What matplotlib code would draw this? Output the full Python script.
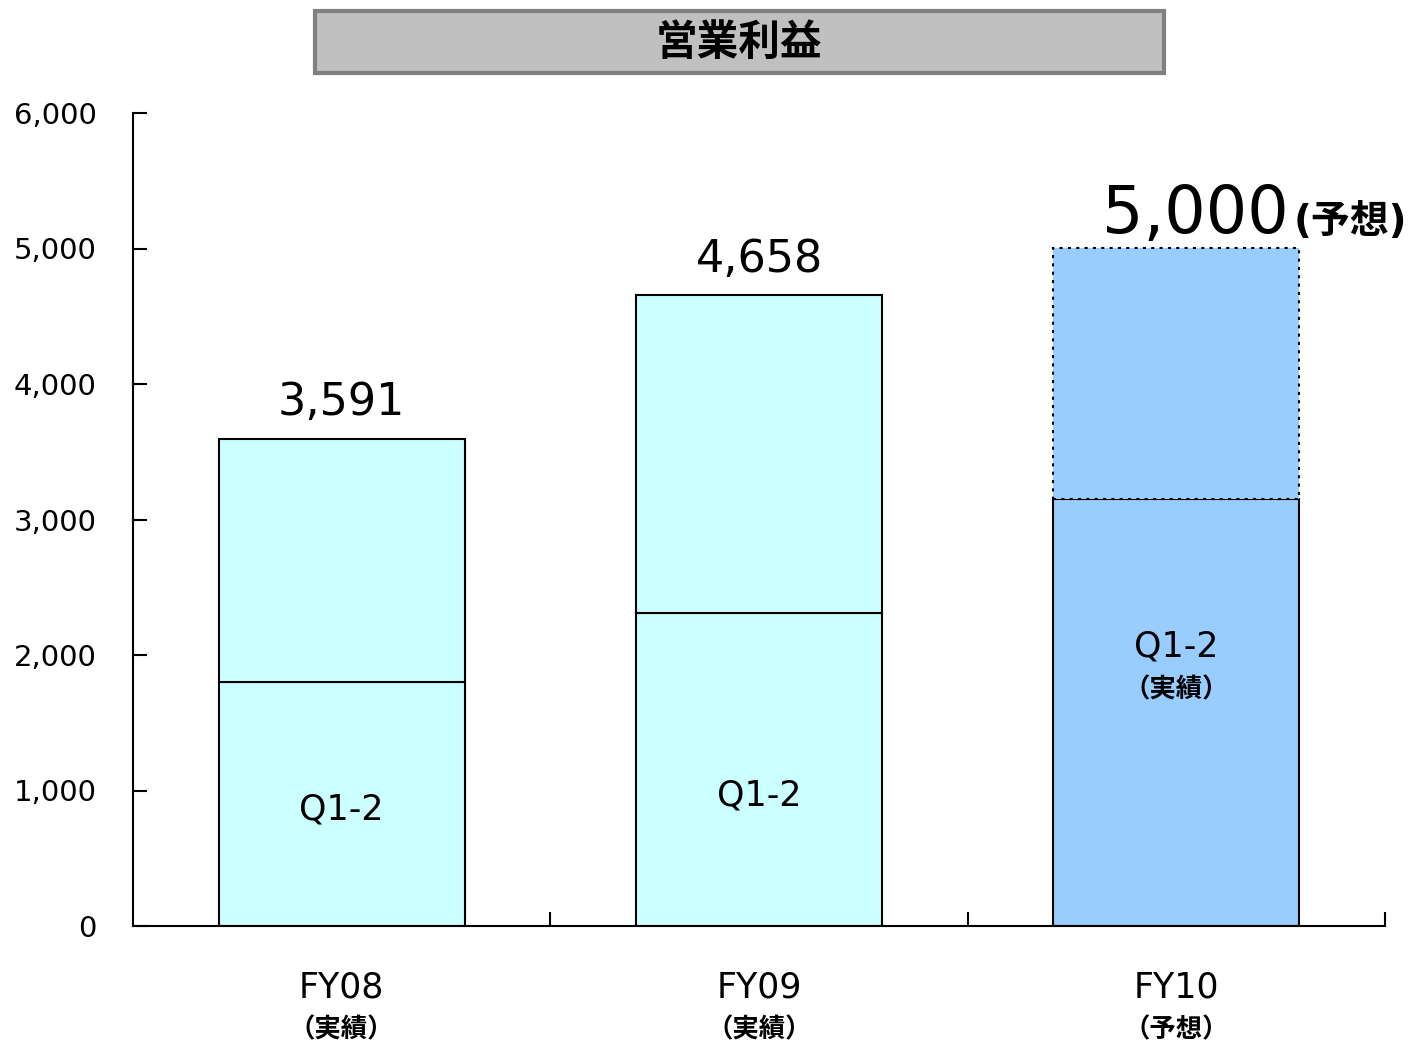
import matplotlib
matplotlib.use("Agg")
import matplotlib.pyplot as plt
import matplotlib.patches as patches
import matplotlib.transforms as mtransforms
import numpy as np

# Latin glyphs from DejaVu (wide digits), Japanese falls through to Noto CJK
plt.rcParams['font.family'] = ['DejaVu Sans', 'Noto Sans CJK JP']

# -------------------------
# Data (operating profit, million yen)
# -------------------------
categories = ['FY08', 'FY09', 'FY10']
sub_labels = ['（実績）', '（実績）', '（予想）']
first_half = [1800, 2310, 3150]        # Q1-2 results
full_year = [3591, 4658, 5000]         # full-year result / forecast
value_labels = ['3,591', '4,658', '5,000']
y_ticks = [0, 1000, 2000, 3000, 4000, 5000, 6000]

second_half = [f - h for f, h in zip(full_year, first_half)]

fig = plt.figure(figsize=(14.19, 10.48), dpi=100)
ax = fig.add_axes([133 / 1419, 1 - 926 / 1048, 1252 / 1419, 813 / 1048])

x = np.arange(len(categories)) + 0.5
width = 0.59
colors = ['#CCFFFF', '#CCFFFF', '#99CCFF']

for i in range(len(categories)):
    ax.bar(x[i], first_half[i], width, color=colors[i], edgecolor='black',
           linewidth=1.5, zorder=2)
    if i < 2:
        ax.bar(x[i], second_half[i], width, bottom=first_half[i], color=colors[i],
               edgecolor='black', linewidth=1.5, zorder=2)
    else:
        # forecast part drawn with dotted outline
        ax.bar(x[i], second_half[i], width, bottom=first_half[i], color=colors[i],
               edgecolor='black', linewidth=1.5, linestyle=(0, (1.5, 2.5)), zorder=3)

# value labels above the bars
ax.text(x[0], full_year[0] + 180, value_labels[0], ha='center', va='baseline', fontsize=32)
ax.text(x[1], full_year[1] + 165, value_labels[1], ha='center', va='baseline', fontsize=32)
ax.text(x[2] + 0.27, full_year[2] + 118, value_labels[2], ha='right', va='baseline', fontsize=47)
ax.text(x[2] + 0.28, full_year[2] + 118, '(予想)', ha='left', va='baseline', fontsize=28,
        fontweight='bold')

# Q1-2 labels inside bars
ax.text(x[0], 860, 'Q1-2', ha='center', va='center', fontsize=25)
ax.text(x[1], 960, 'Q1-2', ha='center', va='center', fontsize=25)
ax.text(x[2], 2060, 'Q1-2', ha='center', va='center', fontsize=25)
ax.text(x[2], 1740, '（実績）', ha='center', va='center', fontsize=19, fontweight='bold')

ax.set_xlim(0, 3)
ax.set_ylim(0, 6000)
ax.set_yticks(y_ticks)
ax.set_yticklabels([f'{v:,}' for v in y_ticks], fontsize=21)
ax.tick_params(axis='y', direction='in', length=10, width=1.5, pad=26)

ax.set_xticks([1, 2, 3])
ax.set_xticklabels([])
ax.tick_params(axis='x', direction='in', length=10, width=1.5)

for side in ['top', 'right']:
    ax.spines[side].set_visible(False)
for side in ['left', 'bottom']:
    ax.spines[side].set_linewidth(1.5)

# category labels below the axis
trans = mtransforms.blended_transform_factory(ax.transData, fig.transFigure)
for i, name in enumerate(categories):
    ax.text(x[i], 1 - 988 / 1048, name, transform=trans, ha='center', va='center', fontsize=25)
    ax.text(x[i], 1 - 1030 / 1048, sub_labels[i], transform=trans, ha='center', va='center',
            fontsize=19, fontweight='bold')

# title box
box = patches.Rectangle((315 / 1419, 1 - 73 / 1048), 849 / 1419, 62 / 1048,
                        transform=fig.transFigure, facecolor='#C0C0C0',
                        edgecolor='#808080', linewidth=3)
fig.patches.append(box)
fig.text(739 / 1419, 1 - 43 / 1048, '営業利益', ha='center', va='center', fontsize=30,
         fontweight='bold')

fig.savefig('out.png', dpi=100)
